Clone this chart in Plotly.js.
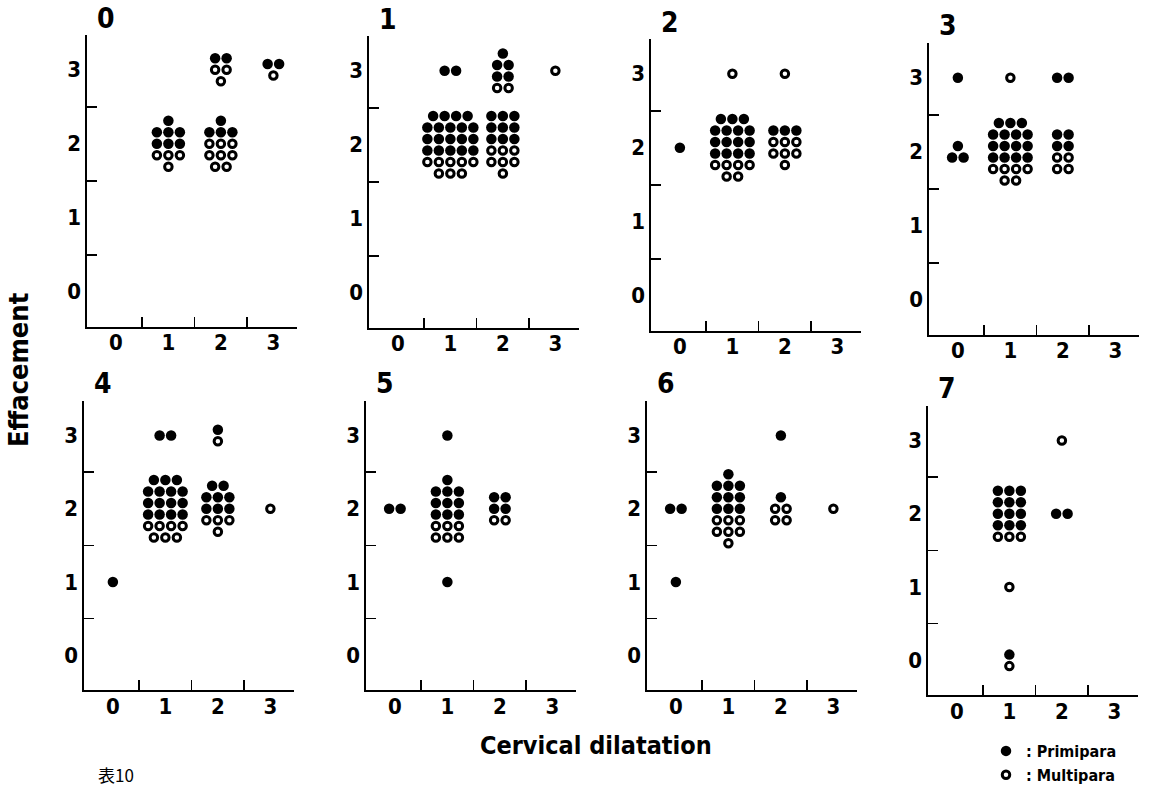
<!DOCTYPE html>
<html>
<head>
<meta charset="utf-8">
<script src="https://cdn.plot.ly/plotly-3.0.1.min.js"></script>
<style>html,body{margin:0;padding:0;background:#fff}#chart{width:1152px;height:790px}</style>
</head>
<body>
<div id="chart"></div>
<script>
// ---- data ----
const panelTitles = ['0', '1', '2', '3', '4', '5', '6', '7'];
const tickValues = [0, 1, 2, 3];
const tickText = ['0', '1', '2', '3'];
const halfTicks = [0.5, 1.5, 2.5];
// each cluster: [cervical dilatation, effacement, rows top->bottom; P = primipara, M = multipara]
const clusters0 = [[1, 2, ['P', 'PPP', 'PPP', 'MMM', 'M']], [2, 2, ['P', 'PPP', 'MMM', 'MMM', 'MM']], [2, 3, ['PP', 'MM', 'M']], [3, 3, ['PP', 'M']]];
const clusters1 = [[1, 3, ['PP']], [2, 3, ['P', 'PP', 'PP', 'MM']], [3, 3, ['M']], [1, 2, ['PPPP', 'PPPPP', 'PPPPP', 'PPPPP', 'MMMMM', 'MMM']], [2, 2, ['PPP', 'PPP', 'PPP', 'MMM', 'MMM', 'M']]];
const clusters2 = [[1, 3, ['M']], [2, 3, ['M']], [0, 2, ['P']], [1, 2, ['PPP', 'PPPP', 'PPPP', 'PPPP', 'MMMM', 'MM']], [2, 2, ['PPP', 'MMM', 'MMM', 'M']]];
const clusters3 = [[0, 3, ['P']], [1, 3, ['M']], [2, 3, ['PP']], [0, 2, ['P', 'PP']], [1, 2, ['PPP', 'PPPP', 'PPPP', 'PPPP', 'MMMM', 'MM']], [2, 2, ['PP', 'PP', 'MM', 'MM']]];
const clusters4 = [[1, 3, ['PP']], [2, 3, ['P', 'M']], [0, 1, ['P']], [1, 2, ['PPP', 'PPPP', 'PPPP', 'PPPP', 'MMMM', 'MMM']], [2, 2, ['PP', 'PPP', 'PPP', 'MMM', 'M']], [3, 2, ['M']]];
const clusters5 = [[1, 3, ['P']], [0, 2, ['PP']], [1, 2, ['P', 'PPP', 'PPP', 'PPP', 'MMM', 'MMM']], [2, 2, ['PP', 'PP', 'MM']], [1, 1, ['P']]];
const clusters6 = [[2, 3, ['P']], [0, 2, ['PP']], [1, 2, ['P', 'PPP', 'PPP', 'PPP', 'MMM', 'MMM', 'M']], [2, 2, ['P', 'MM', 'MM']], [3, 2, ['M']], [0, 1, ['P']]];
const clusters7 = [[2, 3, ['M']], [1, 2, ['PPP', 'PPP', 'PPP', 'PPP', 'MMM']], [2, 2, ['PP']], [1, 1, ['M']], [1, 0, ['P', 'M']]];
const allClusters = [clusters0, clusters1, clusters2, clusters3, clusters4, clusters5, clusters6, clusters7];
const seriesNames = [': Primipara', ': Multipara'];

// ---- layout geometry (pixels) ----
const W = 1152, H = 790;
const xRange = [-0.55, 3.45], yRange = [-0.47, 3.47];
const unitX = 52.5;
const panelLeft = [87, 369, 651, 929, 84, 366, 647, 928];
const panelTop = [35, 36, 39, 43, 401, 401, 401, 406];
const unitY = [74, 74, 74, 74, 73.3, 73.3, 73.3, 73.3];
const pitch = 11.5;

const FONT = '"DejaVu Sans Condensed", "Liberation Sans Narrow", "Arial Narrow", sans-serif';

const traces = [];
const layout = {
  width: W, height: H,
  margin: {l: 0, r: 0, t: 0, b: 0, autoexpand: false},
  paper_bgcolor: '#fff', plot_bgcolor: 'rgba(0,0,0,0)',
  showlegend: true,
  legend: {
    x: 986 / W, y: 1 - 734 / H, xanchor: 'left', yanchor: 'top',
    font: {family: FONT, size: 16, color: '#000', weight: 'bold'},
    itemwidth: 30, tracegroupgap: 0, bgcolor: 'rgba(0,0,0,0)'
  },
  annotations: [],
  font: {family: FONT, color: '#000'}
};

allClusters.forEach((clusters, p) => {
  const w = unitX * (xRange[1] - xRange[0]);
  const h = unitY[p] * (yRange[1] - yRange[0]);
  const dx = pitch / unitX, dy = pitch / unitY[p];
  const px = {x: [], y: []}, mx = {x: [], y: []};
  clusters.forEach(([cx, cy, rows]) => {
    const R = rows.length;
    rows.forEach((row, r) => {
      const n = row.length;
      for (let i = 0; i < n; i++) {
        const target = row[i] === 'P' ? px : mx;
        target.x.push(cx + (i - (n - 1) / 2) * dx);
        target.y.push(cy + ((R - 1) / 2 - r) * dy);
      }
    });
  });
  const ax = p === 0 ? '' : String(p + 1);
  traces.push({
    type: 'scatter', mode: 'markers', x: px.x, y: px.y,
    xaxis: 'x' + ax, yaxis: 'y' + ax,
    name: seriesNames[0], legendgroup: 'P', showlegend: p === 0,
    marker: {symbol: 'circle', size: 10.5, color: '#000', line: {width: 0}},
    hoverinfo: 'skip'
  });
  traces.push({
    type: 'scatter', mode: 'markers', x: mx.x, y: mx.y,
    xaxis: 'x' + ax, yaxis: 'y' + ax,
    name: seriesNames[1], legendgroup: 'M', showlegend: p === 0,
    marker: {symbol: 'circle', size: 7.5, color: '#fff', line: {width: 3, color: '#000'}},
    hoverinfo: 'skip'
  });
  const l = panelLeft[p], t = panelTop[p];
  const axisCommon = {
    showline: true, linewidth: 2.5, linecolor: '#000',
    showgrid: false, zeroline: false, fixedrange: true, automargin: false,
    tickmode: 'array', tickvals: tickValues, ticktext: tickText, ticks: '',
    tickfont: {family: FONT, size: 22, color: '#000', weight: 'bold'},
    minor: {tickmode: 'array', tickvals: halfTicks, ticks: 'inside', ticklen: 10, tickwidth: 1.5, tickcolor: '#000', showgrid: false}
  };
  layout['xaxis' + ax] = Object.assign({}, axisCommon, {
    domain: [l / W, (l + w) / W], range: xRange, anchor: 'y' + ax, ticklabelstandoff: -5
  });
  layout['yaxis' + ax] = Object.assign({}, axisCommon, {
    domain: [1 - (t + h) / H, 1 - t / H], range: yRange, anchor: 'x' + ax, ticklabelstandoff: -1
  });
  layout.annotations.push({
    xref: 'paper', yref: 'paper', x: (l + 8) / W, y: 1 - (t - 17) / H,
    xanchor: 'left', yanchor: 'middle', showarrow: false,
    text: panelTitles[p], font: {family: FONT, size: 28, color: '#000', weight: 'bold'}
  });
});

layout.annotations.push({
  xref: 'paper', yref: 'paper', x: 18 / W, y: 1 - 370 / H, xanchor: 'center', yanchor: 'middle',
  showarrow: false, textangle: -90, text: 'Effacement',
  font: {family: FONT, size: 27, color: '#000', weight: 'bold'}
});
layout.annotations.push({
  xref: 'paper', yref: 'paper', x: 596 / W, y: 1 - 745 / H, xanchor: 'center', yanchor: 'middle',
  showarrow: false, text: 'Cervical dilatation',
  font: {family: FONT, size: 25, color: '#000', weight: 'bold'}
});
layout.annotations.push({
  xref: 'paper', yref: 'paper', x: 96 / W, y: 1 - 774 / H, xanchor: 'left', yanchor: 'middle',
  showarrow: false, text: '表10',
  font: {family: '"Noto Sans CJK JP", sans-serif', size: 17, color: '#000'}
});

Plotly.newPlot('chart', traces, layout, {staticPlot: true});
</script>
</body>
</html>
